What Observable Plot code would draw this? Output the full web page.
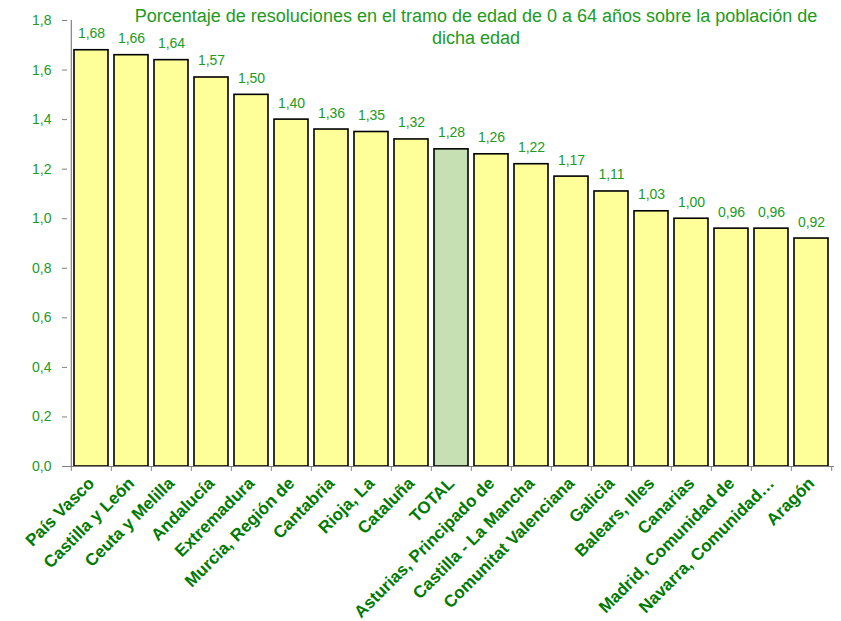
<!DOCTYPE html>
<html>
<head>
<meta charset="utf-8">
<script src="https://cdn.jsdelivr.net/npm/d3@7"></script>
<script src="https://cdn.jsdelivr.net/npm/@observablehq/plot@0.6"></script>
<style>
  html, body { margin: 0; padding: 0; background: white; }
</style>
</head>
<body>
<div id="chart"></div>
<script>
const title = "Porcentaje de resoluciones en el tramo de edad de 0 a 64 años sobre la población de\ndicha edad";
const categories = [
  "País Vasco", "Castilla y León", "Ceuta y Melilla", "Andalucía", "Extremadura",
  "Murcia, Región de", "Cantabria", "Rioja, La", "Cataluña", "TOTAL",
  "Asturias, Principado de", "Castilla - La Mancha", "Comunitat Valenciana", "Galicia",
  "Balears, Illes", "Canarias", "Madrid, Comunidad de", "Navarra, Comunidad…", "Aragón"
];
const values = [1.68, 1.66, 1.64, 1.57, 1.50, 1.40, 1.36, 1.35, 1.32, 1.28,
                1.26, 1.22, 1.17, 1.11, 1.03, 1.00, 0.96, 0.96, 0.92];
const highlight = "TOTAL";
const yTicks = [0, 0.2, 0.4, 0.6, 0.8, 1.0, 1.2, 1.4, 1.6, 1.8];

const data = categories.map((c, i) => ({region: c, value: values[i]}));
const fmt1 = d => d.toFixed(1).replace(".", ",");
const fmt2 = d => d.toFixed(2).replace(".", ",");

const W = 841, H = 621, mL = 67, mR = 7, mT = 20, mB = 155;
const step = (W - mL - mR) / categories.length;
const green = "#229a22";
const darkGreen = "#007a00";

const chart = Plot.plot({
  width: W, height: H,
  marginLeft: mL, marginRight: mR, marginTop: mT, marginBottom: mB,
  style: {fontFamily: "'Liberation Sans', Arial, sans-serif", fontSize: "14px", background: "white", color: green},
  x: {domain: categories, padding: 0, label: null, tickSize: 0, tickRotate: -45, tickPadding: 14},
  y: {domain: [0, 1.8], ticks: yTicks, tickFormat: fmt1, label: null, tickSize: 5, tickPadding: 11},
  marks: [
    Plot.barY(data, {
      x: "region", y: "value",
      fill: d => d.region === highlight ? "#c6e0b4" : "#ffff99",
      stroke: "black", strokeWidth: 1.6, insetLeft: 3, insetRight: 3
    }),
    Plot.ruleY([0], {stroke: "#808080", strokeWidth: 1.2}),
    Plot.ruleX([categories[0]], {dx: -step / 2, stroke: "#808080", strokeWidth: 1.2}),
    Plot.ruleX(categories, {x: d => d, y1: 0, y2: -0.02, dx: -step / 2, stroke: "#808080"}),
    Plot.ruleX([categories[categories.length - 1]], {y1: 0, y2: -0.02, dx: step / 2, stroke: "#808080"}),
    Plot.text(data, {
      x: "region", y: "value", text: d => fmt2(d.value),
      dy: -12, lineAnchor: "bottom", fill: green, fontSize: 14
    }),
    Plot.text([title], {
      frameAnchor: "top", dx: 25, dy: -13, lineAnchor: "top",
      fontSize: 18, fill: green, lineHeight: 1.17
    })
  ]
});

const svg = d3.select(chart);
svg.selectAll('[aria-label^="x-axis"] text')
  .attr("fill", darkGreen).style("fill", darkGreen)
  .attr("font-weight", "bold").style("font-size", "17px");
svg.selectAll('[aria-label^="y-axis"] text')
  .attr("fill", green).style("fill", green).style("font-size", "14px");
svg.selectAll('[aria-label^="y-axis"] line, [aria-label^="y-axis"] path')
  .attr("stroke", "#808080").style("stroke", "#808080");

document.getElementById("chart").appendChild(chart);
</script>
</body>
</html>
